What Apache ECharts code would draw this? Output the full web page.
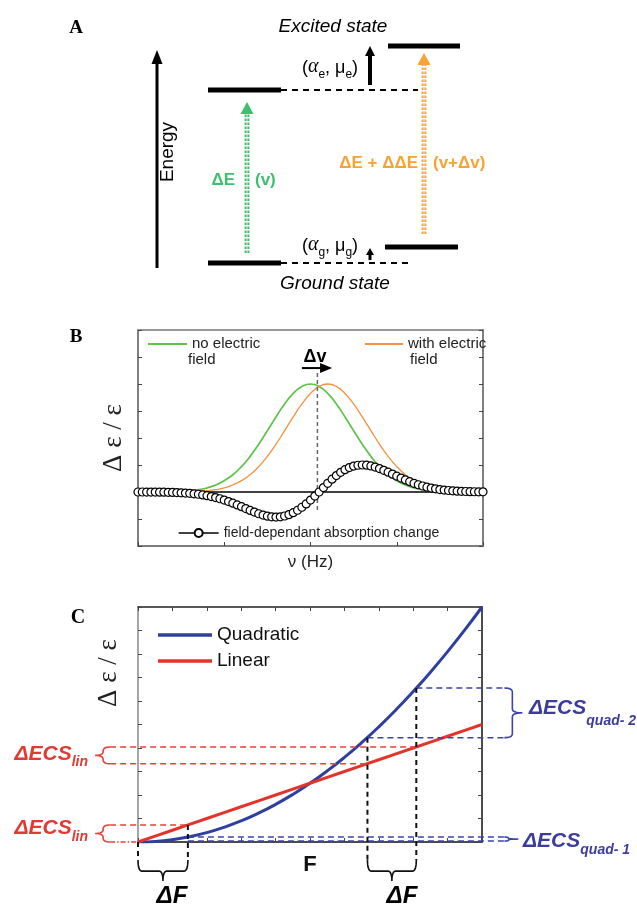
<!DOCTYPE html>
<html>
<head>
<meta charset="utf-8">
<script src="https://cdn.jsdelivr.net/npm/echarts@6.0.0/dist/echarts.min.js"></script>
<style>html,body{margin:0;padding:0;background:#fff}#main{width:637px;height:908px}</style>
</head>
<body>
<div id="main"></div>
<script>
var SANS = '"Liberation Sans", Arial, sans-serif';
var SERIF = '"Liberation Serif", "Times New Roman", serif';

// ---------- panel A : energy diagram (x = position, y = energy, dE = 10) ----------
var levels = [[70, 0, 143, 0], [70, 10, 143, 10], [247, 0.92, 320, 0.92], [250, 12.54, 322, 12.54]];
var levelGuides = [[143, 10, 280, 10], [143, 0, 275, 0]];
var energyAxis = [[19, -0.29, 12.31]];
var transNoField = [[109, 0.58, 9.31]];
var transField = [[286, 1.68, 12.14]];
var shiftExcited = [[232, 10.29, 12.54]];
var shiftGround = [[232, 0.17, 0.87]];

// ---------- panel B : absorption spectra ----------
var nuStep = 0.1;
var absNoField = [0, 0.001, 0.003, 0.006, 0.012, 0.025, 0.047, 0.087, 0.15, 0.26, 0.42, 0.64, 0.94, 1.32, 1.77, 2.27, 2.78, 3.26, 3.65, 3.91, 4.00,
  3.91, 3.65, 3.26, 2.78, 2.27, 1.77, 1.32, 0.94, 0.64, 0.42, 0.26, 0.15, 0.087, 0.047, 0.025, 0.012, 0.006, 0.003, 0.001, 0];
var absField = [0, 0, 0, 0.001, 0.003, 0.006, 0.012, 0.025, 0.047, 0.087, 0.15, 0.26, 0.42, 0.64, 0.94, 1.32, 1.77, 2.27, 2.78, 3.26, 3.65,
  3.91, 4.00, 3.91, 3.65, 3.26, 2.78, 2.27, 1.77, 1.32, 0.94, 0.64, 0.42, 0.26, 0.15, 0.087, 0.047, 0.025, 0.012, 0.006, 0.003];
var changeStep = 0.05;
var absChange = [0, 0, -0.001, -0.002, -0.003, -0.005, -0.008, -0.011, -0.015, -0.022, -0.029, -0.039, -0.05, -0.066, -0.084,
  -0.108, -0.135, -0.168, -0.207, -0.25, -0.3, -0.354, -0.415, -0.477, -0.545, -0.614, -0.681, -0.745, -0.805, -0.855,
  -0.894, -0.92, -0.929, -0.918, -0.889, -0.838, -0.767, -0.675, -0.565, -0.44, -0.3, -0.152, 0,
  0.164, 0.323, 0.474, 0.609, 0.728, 0.827, 0.904, 0.959, 0.99, 1.0, 0.992, 0.964, 0.922, 0.868, 0.804, 0.734, 0.662,
  0.587, 0.515, 0.447, 0.382, 0.323, 0.269, 0.223, 0.18, 0.145, 0.116, 0.091, 0.071, 0.055, 0.042, 0.032, 0.024,
  0.018, 0.013, 0.009, 0.007, 0.005];
var shiftMark = [[2.08, -0.67, 2.08, 4.41]];
var shiftArrow = [[1.9, 4.59, 2.25]];

// ---------- panel C : ECS vs field ----------
var fieldF = [0, 0.5, 1, 1.5, 2, 2.5, 3, 3.5, 4, 4.5, 5, 5.5, 6, 6.5, 7, 7.5, 8, 8.5, 9, 9.5, 10];
var ecsQuad = [0, 0.025, 0.1, 0.225, 0.4, 0.625, 0.9, 1.225, 1.6, 2.025, 2.5, 3.025, 3.6, 4.225, 4.9, 5.625, 6.4, 7.225, 8.1, 9.025, 10];
var ecsLin = [0, 0.25, 0.5, 0.75, 1, 1.25, 1.5, 1.75, 2, 2.25, 2.5, 2.75, 3, 3.25, 3.5, 3.75, 4, 4.25, 4.5, 4.75, 5];
var linDash = [[-0.81, 4.04, 8.09, 4.04], [-0.81, 3.33, 6.67, 3.33], [-0.81, 0.725, 1.45, 0.725]];
var linDashDot = [[-0.81, 0, 0, 0]];
var quadDash = [[8.09, 6.55, 10.65, 6.55], [6.67, 4.44, 10.65, 4.44], [1.45, 0.21, 10.65, 0.21], [1.45, 0.04, 10.65, 0.04]];
var dropLines = [[0, 0, 0, -0.77], [1.45, 0.725, 1.45, -0.77], [6.67, 4.44, 6.67, -0.77], [8.09, 6.55, 8.09, -0.77]];
var linBraces = [[-0.81, 4.04, 3.33], [-0.81, 0.725, 0]];
var quadBraces = [[10.65, 4.44, 6.55], [10.65, 0.04, 0.21]];
var dFBraces = [[0, 1.45, -0.77], [6.67, 8.09, -0.77]];

function pairs(step, vals) {
  return vals.map(function (v, i) { return [+(i * step).toFixed(3), v]; });
}

function segSeries(xi, yi, data, style) {
  return {
    type: 'custom', xAxisIndex: xi, yAxisIndex: yi, data: data, silent: true, z: 3,
    encode: { x: [0, 2], y: [1, 3] },
    renderItem: function (params, api) {
      var a = api.coord([api.value(0), api.value(1)]);
      var b = api.coord([api.value(2), api.value(3)]);
      return {
        type: 'line',
        shape: { x1: a[0], y1: a[1], x2: b[0], y2: b[1] },
        style: Object.assign({ stroke: '#000', fill: null, lineWidth: 1 }, style)
      };
    }
  };
}

function vArrowSeries(data, o) {
  return {
    type: 'custom', xAxisIndex: 0, yAxisIndex: 0, data: data, silent: true, z: 4,
    encode: { x: 0, y: [1, 2] },
    renderItem: function (params, api) {
      var p0 = api.coord([api.value(0), api.value(1)]);
      var p1 = api.coord([api.value(0), api.value(2)]);
      var base = p1[1] + o.headH;
      var kids = [];
      (o.offsets || [0]).forEach(function (dx) {
        kids.push({
          type: 'line',
          shape: { x1: p0[0] + dx, y1: p0[1], x2: p0[0] + dx, y2: base - 0.5 },
          style: { stroke: o.color, lineWidth: o.width, lineDash: o.dash || null, fill: null }
        });
      });
      kids.push({
        type: 'polygon',
        shape: { points: [[p1[0], p1[1]], [p1[0] - o.headW / 2, base], [p1[0] + o.headW / 2, base]] },
        style: { fill: o.color }
      });
      return { type: 'group', children: kids };
    }
  };
}

function bracePoints(p1, p2, d, t) {
  var dx = p2[0] - p1[0], dy = p2[1] - p1[1];
  var L = Math.sqrt(dx * dx + dy * dy);
  var ux = dx / L, uy = dy / L, nx = -uy, ny = ux;
  var r = Math.min(4, L / 4), m = L / 2;
  var pts = [];
  function quad(a, c, b) {
    for (var i = 0; i <= 8; i++) {
      var k = i / 8;
      var s = (1 - k) * (1 - k) * a[0] + 2 * k * (1 - k) * c[0] + k * k * b[0];
      var h = (1 - k) * (1 - k) * a[1] + 2 * k * (1 - k) * c[1] + k * k * b[1];
      pts.push([p1[0] + s * ux + h * nx, p1[1] + s * uy + h * ny]);
    }
  }
  quad([0, 0], [0, d], [r, d]);
  quad([m - r, d], [m, d], [m, d + t]);
  quad([m, d + t], [m, d], [m + r, d]);
  quad([L - r, d], [L, d], [L, 0]);
  return pts;
}

function braceSeries(data, vertical, color, d, t) {
  return {
    type: 'custom', xAxisIndex: 2, yAxisIndex: 3, data: data, silent: true, z: 3,
    encode: vertical ? { x: 0, y: [1, 2] } : { x: [0, 1], y: 2 },
    renderItem: function (params, api) {
      var a, b;
      if (vertical) {
        a = api.coord([api.value(0), api.value(1)]);
        b = api.coord([api.value(0), api.value(2)]);
      } else {
        a = api.coord([api.value(0), api.value(2)]);
        b = api.coord([api.value(1), api.value(2)]);
      }
      return {
        type: 'polyline',
        shape: { points: bracePoints(a, b, d, t) },
        style: { stroke: color, lineWidth: 1.6, fill: null }
      };
    }
  };
}

function subLabel(x, y, main, sub, color, align, drop) {
  return {
    type: 'text', x: x, y: y,
    style: {
      text: '{a|' + main + '}{b|' + sub + '}',
      align: align, verticalAlign: 'middle', fill: color,
      rich: {
        a: { fontSize: 21, fontWeight: 'bold', fontStyle: 'italic', fontFamily: SANS, fill: color,
             lineHeight: 24, padding: [0, 0, drop, 0], verticalAlign: 'bottom' },
        b: { fontSize: 14, fontWeight: 'bold', fontStyle: 'italic', fontFamily: SANS, fill: color,
             lineHeight: 16, verticalAlign: 'bottom' }
      }
    }
  };
}

function stateLabel(x, y, sub) {
  return {
    type: 'text', x: x, y: y,
    style: {
      text: '{t|(}{g|α}{s|' + sub + '}{t|, μ}{s|' + sub + '}{t|)}',
      align: 'center', verticalAlign: 'middle', fill: '#000',
      rich: {
        t: { fontSize: 18, fontFamily: SANS, lineHeight: 22, padding: [0, 0, 4, 0], verticalAlign: 'bottom' },
        g: { fontSize: 20, fontFamily: SERIF, fontStyle: 'italic', lineHeight: 22, padding: [0, 0, 4, 0], verticalAlign: 'bottom' },
        s: { fontSize: 12, fontFamily: SANS, lineHeight: 14, verticalAlign: 'bottom' }
      }
    }
  };
}

function txt(x, y, s, opt) {
  return {
    type: 'text', x: x, y: y,
    rotation: opt.rotation || 0,
    style: {
      text: s, fill: opt.color || '#000', fontSize: opt.size || 15,
      fontFamily: opt.family || SANS, fontWeight: opt.weight || 'normal', fontStyle: opt.style || 'normal',
      align: opt.align || 'center', verticalAlign: 'middle'
    }
  };
}

var tickStyle = { inside: true, length: 4, lineStyle: { color: '#444', width: 1 } };

var chart = echarts.init(document.getElementById('main'));

chart.setOption({
  animation: false,
  grid: [
    { left: 138, top: 38.1, width: 345, height: 233.55 },
    { left: 138, top: 330, width: 345, height: 216, show: true, borderColor: '#777', borderWidth: 1.5 },
    { left: 138, top: 607, width: 344, height: 235 }
  ],
  xAxis: [
    { gridIndex: 0, type: 'value', min: 0, max: 345, show: false },
    { gridIndex: 1, type: 'value', min: 0, max: 4, interval: 1,
      axisLine: { onZero: false, lineStyle: { color: '#777', width: 1.5 } },
      axisTick: tickStyle, axisLabel: { show: false }, splitLine: { show: false },
      name: 'ν (Hz)', nameLocation: 'middle', nameGap: 8,
      nameTextStyle: { fontFamily: SANS, fontSize: 17, color: '#222' } },
    { gridIndex: 2, type: 'value', min: 0, max: 10, interval: 1,
      axisLine: { onZero: false, lineStyle: { color: '#111', width: 1.5 } },
      axisTick: tickStyle, axisLabel: { show: false }, splitLine: { show: false },
      name: 'F', nameLocation: 'middle', nameGap: 12,
      nameTextStyle: { fontFamily: SANS, fontSize: 22, fontWeight: 'bold', color: '#111' } },
    { gridIndex: 2, type: 'value', position: 'top', min: 0, max: 10, interval: 1,
      axisLine: { onZero: false, lineStyle: { color: '#222', width: 1.5 } },
      axisTick: tickStyle, axisLabel: { show: false }, splitLine: { show: false } }
  ],
  yAxis: [
    { gridIndex: 0, type: 'value', min: -0.5, max: 13, show: false },
    { gridIndex: 1, type: 'value', min: -2, max: 6, interval: 1,
      axisLine: { show: true, onZero: false, lineStyle: { color: '#777', width: 1.5 } },
      axisTick: tickStyle, axisLabel: { show: false }, splitLine: { show: false },
      name: 'Δ ε / ε', nameLocation: 'middle', nameGap: 11,
      nameTextStyle: { fontFamily: SERIF, fontSize: 27, color: '#222' } },
    { gridIndex: 1, type: 'value', position: 'right', min: -2, max: 6, interval: 1,
      axisLine: { show: true, onZero: false, lineStyle: { color: '#777', width: 1.5 } },
      axisTick: tickStyle, axisLabel: { show: false }, splitLine: { show: false } },
    { gridIndex: 2, type: 'value', min: 0, max: 10, interval: 1,
      axisLine: { show: true, onZero: false, lineStyle: { color: '#888', width: 1.5 } },
      axisTick: tickStyle, axisLabel: { show: false }, splitLine: { show: false } },
    { gridIndex: 2, type: 'value', position: 'right', min: 0, max: 10, interval: 1,
      axisLine: { show: true, onZero: false, lineStyle: { color: '#111', width: 1.5 } },
      axisTick: tickStyle, axisLabel: { show: false }, splitLine: { show: false } }
  ],
  legend: [
    { data: ['no electric field'], left: 143, top: 331, icon: 'rect', itemWidth: 39, itemHeight: 2,
      selectedMode: false, formatter: function () { return 'no electric'; },
      textStyle: { fontFamily: SANS, fontSize: 15, color: '#222', lineHeight: 16 } },
    { data: ['with electric field'], left: 360, top: 331, icon: 'rect', itemWidth: 38, itemHeight: 2,
      selectedMode: false, formatter: function () { return 'with electric'; },
      textStyle: { fontFamily: SANS, fontSize: 15, color: '#222', lineHeight: 16 } },
    { data: ['field-dependant absorption change'], left: 173, top: 520, itemWidth: 40, itemHeight: 10,
      selectedMode: false, lineStyle: { width: 1.3, color: '#000' },
      textStyle: { fontFamily: SANS, fontSize: 14, color: '#222', lineHeight: 16 } },
    { data: ['Quadratic', 'Linear'], orient: 'vertical', left: 153, top: 620, icon: 'rect',
      itemWidth: 54, itemHeight: 3.5, itemGap: 6, selectedMode: false,
      textStyle: { fontFamily: SANS, fontSize: 19, color: '#111', lineHeight: 20 } }
  ],
  series: [
    // panel A
    segSeries(0, 0, levels, { stroke: '#000', lineWidth: 5 }),
    segSeries(0, 0, levelGuides, { stroke: '#000', lineWidth: 2, lineDash: [6, 5] }),
    vArrowSeries(energyAxis, { color: '#000', width: 3, headW: 11, headH: 14 }),
    vArrowSeries(shiftExcited, { color: '#000', width: 4, headW: 10, headH: 10 }),
    vArrowSeries(shiftGround, { color: '#000', width: 3, headW: 8, headH: 7 }),
    vArrowSeries(transNoField, { color: '#3fbf6d', width: 2, headW: 13, headH: 12, offsets: [-1.4, 1.4], dash: [2.5, 1.5] }),
    vArrowSeries(transField, { color: '#f7a232', width: 2, headW: 13, headH: 12, offsets: [-1.4, 1.4], dash: [2.5, 1.5] }),

    // panel B
    { type: 'line', xAxisIndex: 1, yAxisIndex: 1, data: [[0, 0], [4, 0]], symbol: 'none', silent: true,
      lineStyle: { color: '#000', width: 1.3 }, z: 1 },
    { type: 'line', name: 'no electric field', xAxisIndex: 1, yAxisIndex: 1, data: pairs(nuStep, absNoField),
      smooth: true, symbol: 'none', lineStyle: { color: '#5ec24b', width: 1.7 }, itemStyle: { color: '#5ec24b' }, z: 2 },
    { type: 'line', name: 'with electric field', xAxisIndex: 1, yAxisIndex: 1, data: pairs(nuStep, absField),
      smooth: true, symbol: 'none', lineStyle: { color: '#f5913f', width: 1.3 }, itemStyle: { color: '#f5913f' }, z: 2 },
    { type: 'line', name: 'field-dependant absorption change', xAxisIndex: 1, yAxisIndex: 1,
      data: pairs(changeStep, absChange), symbol: 'circle', symbolSize: 8, showSymbol: true, showAllSymbol: true,
      clip: false, lineStyle: { width: 0 }, itemStyle: { color: '#fff', borderColor: '#000', borderWidth: 1.2 }, z: 4 },
    segSeries(1, 1, shiftMark, { stroke: '#666', lineWidth: 1.5, lineDash: [4, 3] }),
    {
      type: 'custom', xAxisIndex: 1, yAxisIndex: 1, data: shiftArrow, silent: true, z: 5,
      encode: { x: [0, 2], y: 1 },
      renderItem: function (params, api) {
        var a = api.coord([api.value(0), api.value(1)]);
        var b = api.coord([api.value(2), api.value(1)]);
        return { type: 'group', children: [
          { type: 'line', shape: { x1: a[0], y1: a[1], x2: b[0] - 11, y2: b[1] }, style: { stroke: '#000', lineWidth: 2 } },
          { type: 'polygon', shape: { points: [[b[0], b[1]], [b[0] - 12, b[1] - 5], [b[0] - 12, b[1] + 5]] }, style: { fill: '#000' } }
        ] };
      }
    },

    // panel C
    { type: 'line', name: 'Quadratic', xAxisIndex: 2, yAxisIndex: 3,
      data: fieldF.map(function (f, i) { return [f, ecsQuad[i]]; }),
      smooth: true, symbol: 'none', lineStyle: { color: '#2e3f9f', width: 3 }, itemStyle: { color: '#2e3f9f' }, z: 2 },
    { type: 'line', name: 'Linear', xAxisIndex: 2, yAxisIndex: 3,
      data: fieldF.map(function (f, i) { return [f, ecsLin[i]]; }),
      symbol: 'none', lineStyle: { color: '#e3342b', width: 3 }, itemStyle: { color: '#e3342b' }, z: 2 },
    segSeries(2, 3, linDash, { stroke: '#e8403a', lineWidth: 1.6, lineDash: [6, 4] }),
    segSeries(2, 3, linDashDot, { stroke: '#e8403a', lineWidth: 1.6, lineDash: [5, 2, 1.5, 2] }),
    segSeries(2, 3, quadDash, { stroke: '#3d44a8', lineWidth: 1.5, lineDash: [6, 4] }),
    segSeries(2, 3, dropLines, { stroke: '#111', lineWidth: 2, lineDash: [5, 4] }),
    braceSeries([linBraces[0]], true, '#e8403a', 7, 8),
    braceSeries([linBraces[1]], true, '#e8403a', 7, 8),
    braceSeries([quadBraces[0]], true, '#3d44a8', 8, 10),
    braceSeries([quadBraces[1]], true, '#3d44a8', 4, 10),
    braceSeries(dFBraces, false, '#111', 11, 10)
  ],
  graphic: [
    txt(76, 28, 'A', { size: 19, weight: 'bold', family: SERIF }),
    txt(76, 337, 'B', { size: 19, weight: 'bold', family: SERIF }),
    txt(78, 618, 'C', { size: 20, weight: 'bold', family: SERIF }),
    txt(333, 27, 'Excited state', { size: 19, style: 'italic' }),
    txt(335, 284, 'Ground state', { size: 19, style: 'italic' }),
    txt(168, 152, 'Energy', { size: 19, rotation: Math.PI / 2 }),
    stateLabel(330, 70, 'e'),
    stateLabel(330, 248, 'g'),
    txt(235, 180, 'ΔE', { size: 17, weight: 'bold', color: '#3fbf6d', align: 'right' }),
    txt(255, 180, '(v)', { size: 17, weight: 'bold', color: '#3fbf6d', align: 'left' }),
    txt(418, 163, 'ΔE + ΔΔE', { size: 17, weight: 'bold', color: '#f7a232', align: 'right' }),
    txt(433, 163, '(v+Δv)', { size: 17, weight: 'bold', color: '#f7a232', align: 'left' }),
    txt(188, 360, 'field', { size: 15, color: '#222', align: 'left' }),
    txt(410, 360, 'field', { size: 15, color: '#222', align: 'left' }),
    txt(315, 357, 'Δv', { size: 18, weight: 'bold' }),
    txt(109, 673, 'Δ ε / ε', { size: 27, family: SERIF, color: '#222', rotation: Math.PI / 2 }),
    subLabel(88, 757.5, 'ΔECS', 'lin', '#e03a33', 'right', 5),
    subLabel(88, 832, 'ΔECS', 'lin', '#e03a33', 'right', 5),
    subLabel(529, 716, 'ΔECS', 'quad- 2', '#3c3c9e', 'left', 9),
    subLabel(523, 845, 'ΔECS', 'quad- 1', '#3c3c9e', 'left', 5),
    txt(172, 896, 'ΔF', { size: 24, weight: 'bold', style: 'italic' }),
    txt(402, 896, 'ΔF', { size: 24, weight: 'bold', style: 'italic' })
  ]
});
</script>
</body>
</html>
